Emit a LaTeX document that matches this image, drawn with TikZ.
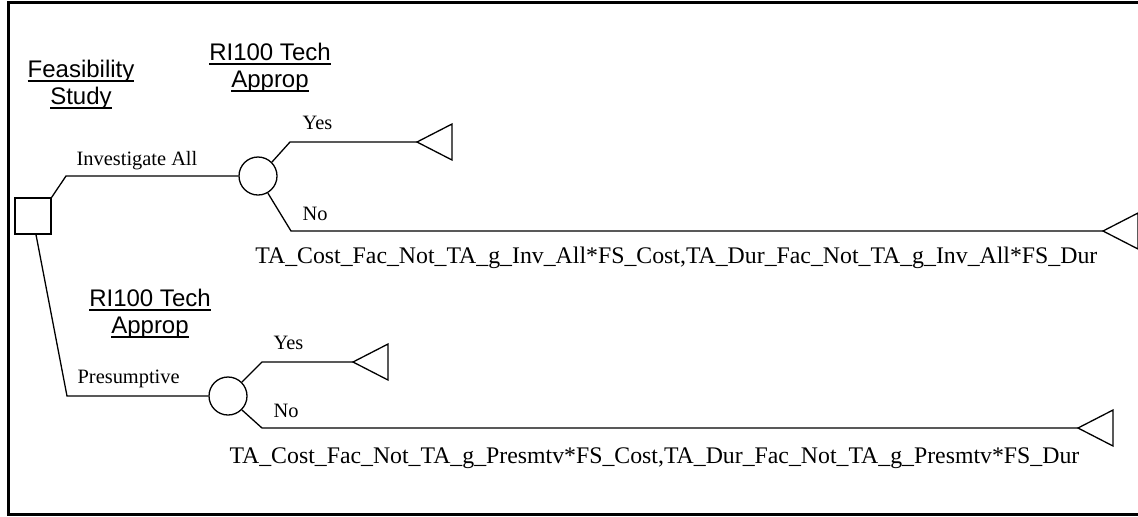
\documentclass[tikz,border=0pt]{standalone}
\usepackage{fontspec}
\setmainfont{Liberation Serif}
\setsansfont{Liberation Sans}
\usetikzlibrary{calc}
% underlined word with a fixed rule offset
\newcommand\ulword[1]{\setbox0\hbox{#1}\rlap{\copy0}\rule[-0.2em]{\wd0}{0.065em}}
\begin{document}
\begin{tikzpicture}[x=0.5pt,y=-0.5pt,line width=0.65pt,
  chance/.style={circle,draw,minimum size=19pt,inner sep=0pt},
  decision/.style={rectangle,draw,minimum size=18pt,inner sep=0pt},
  branchlabel/.style={font=\fontsize{10.2}{12}\selectfont,inner sep=0pt,anchor=base west},
  payoff/.style={font=\fontsize{11.9}{14}\selectfont,inner sep=0pt,anchor=base east},
  heading/.style={font=\sffamily\fontsize{12}{13.5}\selectfont,align=center,inner sep=0pt,anchor=base},
  terminal/.style={draw,line join=miter}]
\useasboundingbox (0,0) rectangle (1138,516);
% page frame
\draw[line width=1.5pt] (1138,2.5) -- (8.5,2.5) -- (8.5,514) -- (1138,514);

% nodes
\node[decision] (fs) at (33,216) {};
\node[chance] (ta1) at (258,176) {};
\node[chance] (ta2) at (228,396) {};
\coordinate (yes1) at (417,142);
\coordinate (no1) at (1103,231);
\coordinate (yes2) at (353,362);
\coordinate (no2) at (1078,428);

% terminal triangles
\foreach \t in {yes1,no1,yes2,no2}
  \draw[terminal] (\t) -- ++(35,-18) -- ++(0,36) -- cycle;

% branches
\draw (fs.north east) -- (66,176) -- (ta1.west);
\draw ($(fs.south)+(3,0)$) -- (67,396) -- (ta2.west);
\draw (ta1.45) -- (290,142) -- (yes1);
\draw (ta1.-60) -- (291,231) -- (no1);
\draw (ta2.45) -- (262,362) -- (yes2);
\draw (ta2.-45) -- (262,428) -- (no2);

% headings (base anchor sits on the last line)
\node[heading] (hfs) at (81,104) {\ulword{Feasibility}\\\ulword{Study}};
\node[heading] (hta1) at (270,87) {\ulword{RI100 Tech}\\\ulword{Approp}};
\node[heading] (hta2) at (150,333) {\ulword{RI100 Tech}\\\ulword{Approp}};

% branch labels
\node[branchlabel] (linv) at (76,165) {Investigate All};
\node[branchlabel] (lpre) at (77,383) {Presumptive};
\node[branchlabel] (ly1) at (302,129) {Yes};
\node[branchlabel] (ln1) at (302,220) {No};
\node[branchlabel] (ly2) at (273,349) {Yes};
\node[branchlabel] (ln2) at (273,417) {No};

% payoffs
\node[payoff] (p1) at (1098,263) {TA\_Cost\_Fac\_Not\_TA\_g\_Inv\_All*FS\_Cost,TA\_Dur\_Fac\_Not\_TA\_g\_Inv\_All*FS\_Dur};
\node[payoff] (p2) at (1080,463) {TA\_Cost\_Fac\_Not\_TA\_g\_Presmtv*FS\_Cost,TA\_Dur\_Fac\_Not\_TA\_g\_Presmtv*FS\_Dur};
\end{tikzpicture}
\end{document}
